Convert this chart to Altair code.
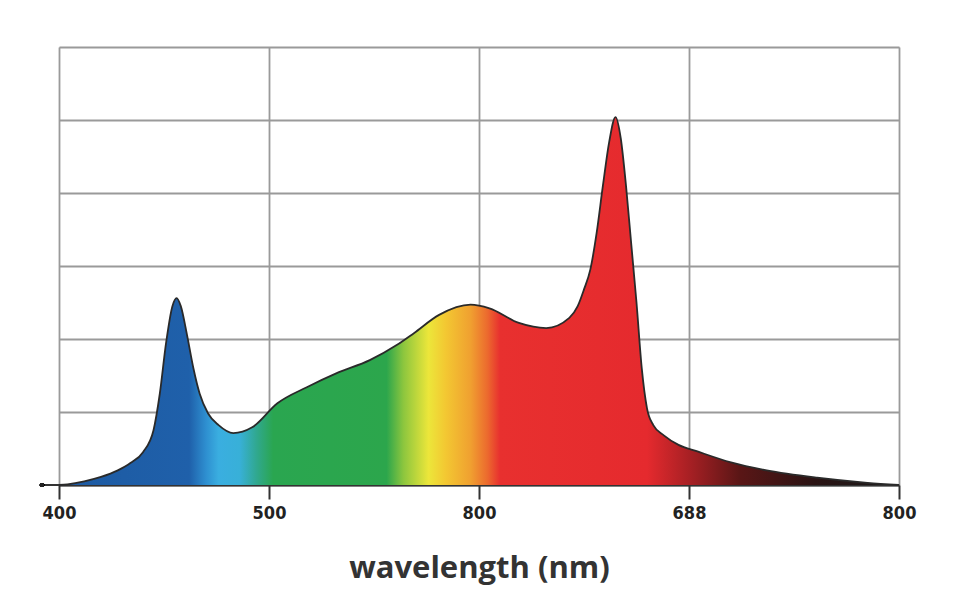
import altair as alt
import pandas as pd

# wavelength (nm) and relative intensity
wavelength = [400, 404, 412, 420, 428, 434, 440, 445, 448, 451, 454, 456, 458, 461, 464, 467,
              471, 476, 483, 492, 504, 518, 532, 548, 561, 569, 581, 596, 605, 619, 632,
              643, 647, 650, 653, 656, 659, 662, 665, 667.5, 670, 672.5, 675, 677.5, 680,
              683, 688, 695, 704, 720, 737, 761, 785, 800]
intensity = [0.0, 0.01, 0.05, 0.11, 0.2, 0.3, 0.45, 0.75, 1.25, 1.95, 2.45, 2.56, 2.45, 2.05, 1.6, 1.25,
             0.98, 0.82, 0.71, 0.79, 1.12, 1.34, 1.53, 1.71, 1.92, 2.08, 2.33, 2.47, 2.42, 2.22, 2.15,
             2.29, 2.45, 2.68, 2.95, 3.45, 4.1, 4.7, 5.04, 4.75, 4.1, 3.3, 2.5, 1.6, 1.05,
             0.82, 0.68, 0.55, 0.46, 0.31, 0.2, 0.1, 0.03, 0.0]

tick_values = [400, 500, 600, 700, 800]
tick_labels = ["400", "500", "800", "688", "800"]
y_grid = [0, 1, 2, 3, 4, 5, 6]

df = pd.DataFrame({"wl": wavelength, "v": intensity})

label_expr = " : ".join(
    f"datum.value == {v} ? '{t}'" for v, t in zip(tick_values, tick_labels)
) + " : datum.label"

stops = [
    (0.00, "#1d5aa2"), (0.155, "#1f60aa"), (0.175, "#2e8fd0"), (0.19, "#3aaee0"),
    (0.215, "#38b0d8"), (0.235, "#30a890"), (0.255, "#2aa650"), (0.39, "#2ca64c"),
    (0.41, "#8cc63e"), (0.44, "#ece63a"), (0.46, "#f3c832"), (0.49, "#f0a030"),
    (0.51, "#ec6a2e"), (0.525, "#e8302f"), (0.70, "#e52a2e"), (0.75, "#a82024"),
    (0.81, "#5a1616"), (0.90, "#2a1414"), (1.00, "#1a1a1a"),
]
gradient = alt.Gradient(
    gradient="linear",
    stops=[alt.GradientStop(offset=o, color=c) for o, c in stops],
    x1=0, x2=1, y1=0, y2=0,
)

x_enc = alt.X(
    "wl:Q",
    scale=alt.Scale(domain=[400, 800], nice=False),
    axis=alt.Axis(
        values=tick_values, labelExpr=label_expr, title="wavelength (nm)",
        grid=True, gridColor="#9a9a9a", gridWidth=1.8, labelFlush=False,
        domainColor="#333333", domainWidth=2, tickColor="#333333", tickWidth=2,
        tickSize=14, labelPadding=5,
        labelFont="'DejaVu Sans Condensed', 'Liberation Sans Narrow', 'DejaVu Sans', sans-serif",
        labelFontSize=18, labelFontWeight="bold", labelColor="#222222",
        titleFont="Open Sans", titleFontSize=31, titleFontWeight="bold",
        titleColor="#333333", titlePadding=31,
    ),
)
y_enc = alt.Y(
    "v:Q",
    scale=alt.Scale(domain=[0, 6], nice=False),
    axis=alt.Axis(values=y_grid, labels=False, ticks=False, domain=False, title=None,
                  grid=True, gridColor="#9a9a9a", gridWidth=1.8),
)

area = alt.Chart(df).mark_area(interpolate="monotone", fill=gradient).encode(x=x_enc, y=y_enc)
line = alt.Chart(df).mark_line(interpolate="monotone", color="#2a2a2a", strokeWidth=1.8).encode(
    x="wl:Q", y="v:Q")
stub = alt.Chart(df).mark_rule(color="#333333", strokeWidth=2).encode(
    x=alt.value(-17), x2=alt.value(0), y=alt.datum(0))
dot = alt.Chart(df).mark_point(filled=True, color="#222222", size=18, opacity=1).encode(
    x=alt.value(-17), y=alt.datum(0))

chart = (
    alt.layer(area, line, stub, dot)
    .properties(width=840, height=438, autosize=alt.AutoSizeParams(type="none"),
                padding={"left": 59, "top": 47, "right": 59, "bottom": 129})
    .configure_view(stroke="#9a9a9a", strokeWidth=1.8)
    .configure(background="white")
)

chart.save("out.html", embed_options={"renderer": "svg", "actions": False})
